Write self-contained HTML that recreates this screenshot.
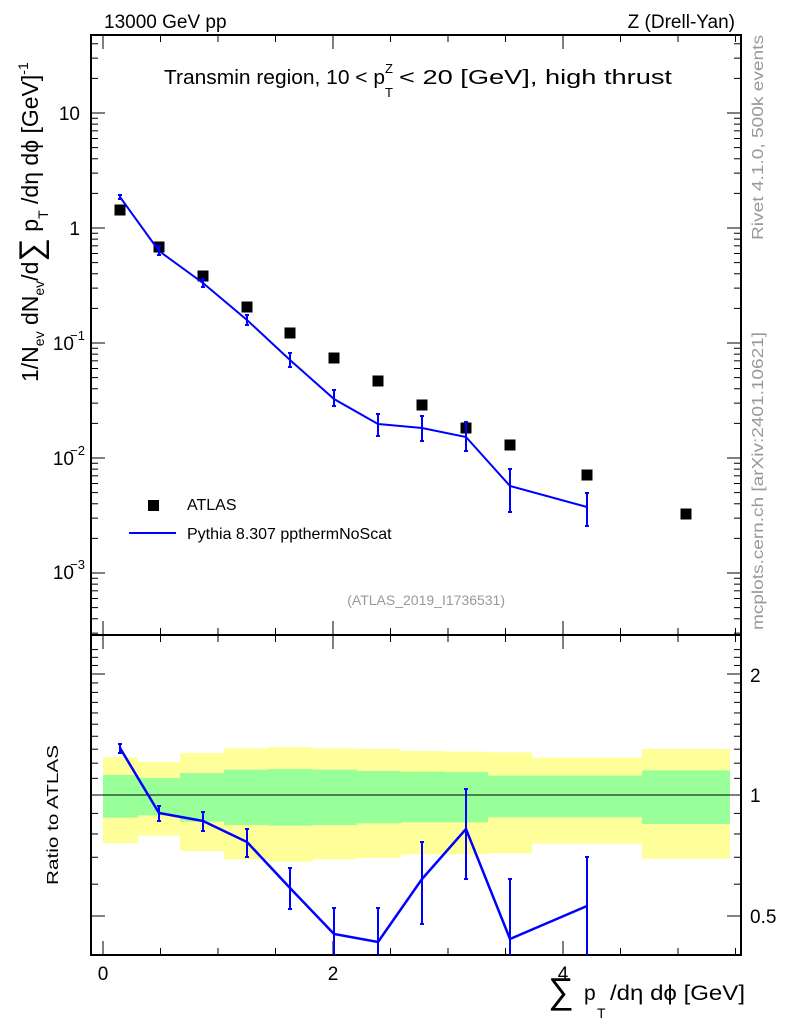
<!DOCTYPE html>
<html><head><meta charset="utf-8"><style>
body{margin:0;background:#fff}
svg text{font-family:"Liberation Sans",sans-serif}
</style></head><body>
<svg id="s" width="786" height="1024" viewBox="0 0 786 1024" xmlns="http://www.w3.org/2000/svg">
<g id="bands"></g>
<line x1="91" y1="795" x2="741" y2="795" stroke="#000" stroke-width="1"/>
<g id="ticks" stroke="#000" stroke-width="1"></g>
<rect x="91" y="35" width="650" height="600" fill="none" stroke="#000" stroke-width="2"/>
<rect x="91" y="635" width="650" height="320" fill="none" stroke="#000" stroke-width="2"/>
<g id="data"></g>
<text x="104" y="28" font-size="19">13000 GeV pp</text>
<text x="735" y="28" font-size="19" text-anchor="end">Z (Drell-Yan)</text>
<text x="164" y="84" font-size="20" textLength="221" lengthAdjust="spacingAndGlyphs">Transmin region, 10 &lt; p</text>
<text x="385" y="73" font-size="13">Z</text>
<text x="385" y="97" font-size="13">T</text>
<text x="399" y="84" font-size="20" textLength="273" lengthAdjust="spacingAndGlyphs">&lt; 20 [GeV], high thrust</text>
<g font-size="19" text-anchor="end">
<text x="80" y="120">10</text><text x="80" y="235">1</text>
<text x="74" y="350">10</text><text x="85" y="340" font-size="13">−1</text>
<text x="74" y="465">10</text><text x="85" y="455" font-size="13">−2</text>
<text x="74" y="579">10</text><text x="85" y="569" font-size="13">−3</text>
</g>
<g font-size="19" text-anchor="start">
<text x="750" y="682">2</text><text x="750" y="802">1</text><text x="750" y="923">0.5</text>
</g>
<g font-size="19" text-anchor="middle">
<text x="103" y="980">0</text><text x="333" y="980">2</text><text x="563" y="980">4</text>
</g>
<text x="187" y="510" font-size="16">ATLAS</text>
<rect x="148" y="500" width="11" height="11" fill="#000"/>
<line x1="129" y1="533" x2="176" y2="533" stroke="#0000ff" stroke-width="2"/>
<text x="187" y="539" font-size="16">Pythia 8.307 ppthermNoScat</text>
<text x="505" y="605" font-size="14" fill="#999" text-anchor="end">(ATLAS_2019_I1736531)</text>
<text transform="translate(763,240) rotate(-90)" font-size="16" fill="#999" textLength="205" lengthAdjust="spacingAndGlyphs">Rivet 4.1.0,  500k events</text>
<text transform="translate(763,630) rotate(-90)" font-size="16" fill="#999" textLength="298" lengthAdjust="spacingAndGlyphs">mcplots.cern.ch [arXiv:2401.10621]</text>
<text transform="translate(58,885) rotate(-90)" font-size="16" textLength="140" lengthAdjust="spacingAndGlyphs">Ratio to ATLAS</text>
<text transform="translate(38,382) rotate(-90)" font-size="23">1/N<tspan font-size="14" dy="6">ev</tspan><tspan dy="-6"> dN</tspan><tspan font-size="14" dy="6">ev</tspan><tspan dy="-6">/d</tspan><tspan font-size="33" dy="4">∑</tspan><tspan dy="-4"> p</tspan><tspan font-size="14" dy="10">T</tspan><tspan dy="-10"> /dη dϕ  [GeV]</tspan><tspan font-size="14" dy="-10">-1</tspan></text>
<text x="548" y="1003" font-size="36">∑</text>
<text x="584" y="1000" font-size="21">p</text>
<text x="597" y="1018" font-size="14">T</text>
<text x="610" y="1000" font-size="21" textLength="135" lengthAdjust="spacingAndGlyphs">/dη dϕ [GeV]</text>
</svg>
<script>
const NS="http://www.w3.org/2000/svg";
function el(p,t,a){const e=document.createElementNS(NS,t);for(const k in a)e.setAttribute(k,a[k]);document.getElementById(p).appendChild(e);return e;}
function L(p,x1,y1,x2,y2,a){return el(p,'line',Object.assign({x1,y1,x2,y2},a||{}));}
for(let v=0;v<=5.5;v+=0.5){const x=103+115*v;const big=(Math.abs(v%2)<1e-6);const len=big?14:7;
 for(const [yt,yb] of [[35,635],[635,955]]){L('ticks',x,yb,x,yb-len);L('ticks',x,yt,x,yt+len);}}
const yv=v=>228-115*Math.log10(v);
for(let d=-4;d<=1;d++){for(let m=1;m<10;m++){const v=m*Math.pow(10,d);const y=yv(v);if(y<36||y>634)continue;const len=m==1?14:7;L('ticks',91,y,91+len,y);L('ticks',741,y,741-len,y);}}
const ry=v=>795-402*Math.log10(v);
for(let v=0.4;v<=2.4;v+=0.1){const y=ry(v);if(y<636||y>954)continue;const r=Math.round(v*10)/10;const big=(r==0.5||r==1||r==2);const len=big?14:7;L('ticks',91,y,91+len,y);L('ticks',741,y,741-len,y);}
const edges=[103,138,180,224,268,313,357,401,444,488,532,642,730];
const yel=[[382,640],[396,617],[369,663],[355,688],[351,695],[355,688],[357,684],[363,673],[365,673],[367,670],[383,641],[357,686]];
const grn=[[435,563],[444,556],[429,575],[419,585],[417,587],[419,585],[423,580],[425,577],[426,577],[437,562],[437,562],[421,582]];
for(let i=0;i<12;i++){const x=edges[i],w=edges[i+1]-x;
 el('bands','rect',{x,y:yel[i][0]/3+630,width:w,height:(yel[i][1]-yel[i][0])/3,fill:'#ffff99'});
 el('bands','rect',{x,y:grn[i][0]/3+630,width:w,height:(grn[i][1]-grn[i][0])/3,fill:'#99ff99'});}
const at=[[120,210],[159,247],[203,276],[247,307],[290,333],[334,358],[378,381],[422,405],[466,428],[510,445],[587,475],[686,514]];
at.forEach(p=>el('data','rect',{x:p[0]-5.5,y:p[1]-5.5,width:11,height:11,fill:'#000'}));
const mc=[[120,197],[159,251],[203,283],[247,320],[290,360],[334,399],[378,424],[422,428],[466,437],[510,486],[587,507]];
const mce=[[195,199],[246,255],[279,287],[315,325],[353,367],[390,406],[414,436],[416,441],[422,451],[469,512],[493,526]];
el('data','polyline',{points:mc.map(p=>p.join(',')).join(' '),fill:'none',stroke:'#0000ff','stroke-width':2});
mc.forEach((p,i)=>{L('data',p[0],mce[i][0],p[0],mce[i][1],{stroke:'#0000ff','stroke-width':2});L('data',p[0]-2,mce[i][0],p[0]+2,mce[i][0],{stroke:'#0000ff','stroke-width':2});L('data',p[0]-2,mce[i][1],p[0]+2,mce[i][1],{stroke:'#0000ff','stroke-width':2});});
const rt=[[120,748],[159,813],[203,821],[247,842],[290,888],[334,934],[378,942],[422,879],[466,829],[510,939],[587,906]];
const rte=[[744,753],[806,821],[812,831],[829,857],[868,909],[908,955],[908,955],[842,924],[789,879],[879,955],[857,955]];
el('data','polyline',{points:rt.map(p=>p.join(',')).join(' '),fill:'none',stroke:'#0000ff','stroke-width':2.5});
rt.forEach((p,i)=>{L('data',p[0],rte[i][0],p[0],rte[i][1],{stroke:'#0000ff','stroke-width':2});L('data',p[0]-2,rte[i][0],p[0]+2,rte[i][0],{stroke:'#0000ff','stroke-width':2});if(rte[i][1]<954)L('data',p[0]-2,rte[i][1],p[0]+2,rte[i][1],{stroke:'#0000ff','stroke-width':2});});
</script>
</body></html>
